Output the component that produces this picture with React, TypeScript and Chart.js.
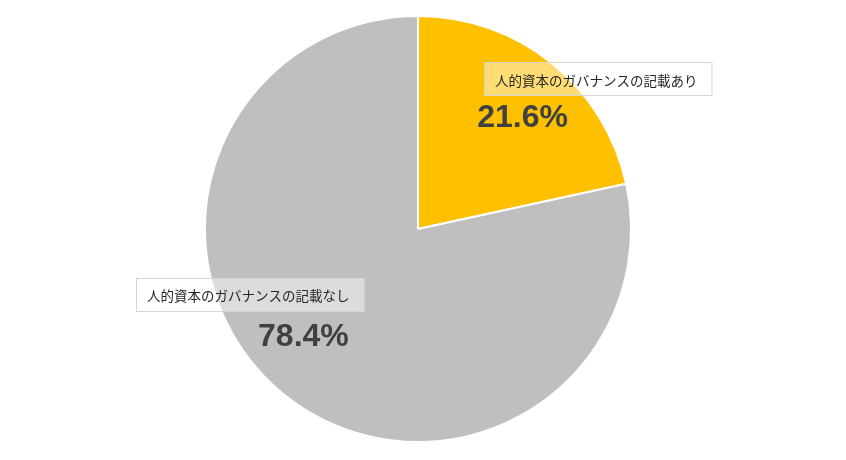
import { useEffect, useRef } from 'react'
import { Chart, PieController, ArcElement, type Plugin } from 'chart.js'

Chart.register(PieController, ArcElement)

const CATEGORIES = ['人的資本のガバナンスの記載あり', '人的資本のガバナンスの記載なし']
const VALUES = [21.6, 78.4]
const COLORS = ['#FFC000', '#BFBFBF']

// label placement relative to each slice's anchor (0.73 r along the mid angle)
const BOX_OFFSETS = [[83, -28.5], [-70, -55.5]]
const PCT_OFFSETS = [[7, 19.5], [-17, -4.5]]

const sliceLabels: Plugin<'pie'> = {
  id: 'sliceLabels',
  afterDatasetsDraw(chart) {
    const ctx = chart.ctx
    const meta = chart.getDatasetMeta(0)
    meta.data.forEach((el, i) => {
      const { x, y, startAngle, endAngle, outerRadius } = (el as any).getProps(
        ['x', 'y', 'startAngle', 'endAngle', 'outerRadius'], true)
      const mid = (startAngle + endAngle) / 2
      const r = outerRadius * 0.73
      const ax = x + Math.cos(mid) * r
      const ay = y + Math.sin(mid) * r

      ctx.save()
      // category box
      ctx.font = '13.5px "Noto Sans CJK JP", sans-serif'
      const tw = ctx.measureText(CATEGORIES[i]).width
      const bw = tw + 26
      const bh = 34
      const cx = ax + BOX_OFFSETS[i][0]
      const cy = ay + BOX_OFFSETS[i][1]
      const bx = Math.round(cx - bw / 2)
      const by = Math.round(cy - bh / 2)
      ctx.fillStyle = 'rgba(255,255,255,0.45)'
      ctx.fillRect(bx, by, bw, bh)
      ctx.strokeStyle = '#D4D4D4'
      ctx.lineWidth = 1
      ctx.strokeRect(bx + 0.5, by + 0.5, bw - 1, bh - 1)
      ctx.fillStyle = '#262626'
      ctx.textAlign = 'left'
      ctx.textBaseline = 'middle'
      ctx.fillText(CATEGORIES[i], bx + 11, cy + 1)

      // percentage
      ctx.font = 'bold 32px "Liberation Sans", sans-serif'
      ctx.fillStyle = '#404040'
      ctx.textAlign = 'center'
      ctx.textBaseline = 'alphabetic'
      ctx.fillText(`${VALUES[i].toFixed(1)}%`, ax + PCT_OFFSETS[i][0], ay + PCT_OFFSETS[i][1])
      ctx.restore()
    })
  },
}

export default function App() {
  const canvasRef = useRef<HTMLCanvasElement>(null)

  useEffect(() => {
    const canvas = canvasRef.current
    if (!canvas) return
    Chart.getChart(canvas)?.destroy()
    const chart = new Chart(canvas, {
      type: 'pie',
      data: {
        labels: CATEGORIES,
        datasets: [{
          data: VALUES,
          backgroundColor: COLORS,
          borderColor: '#ffffff',
          borderWidth: 2,
        }],
      },
      options: {
        responsive: false,
        animation: false,
        events: [],
        radius: 213,
        layout: { padding: { left: 0, right: 10, top: 0, bottom: 2 } },
        plugins: { legend: { display: false }, tooltip: { enabled: false } },
      },
      plugins: [sliceLabels],
    })
    return () => chart.destroy()
  }, [])

  return (
    <div style={{ position: 'fixed', left: 0, top: 0, width: 846, height: 460, background: '#fff' }}>
      <canvas ref={canvasRef} width={846} height={460} />
    </div>
  )
}
